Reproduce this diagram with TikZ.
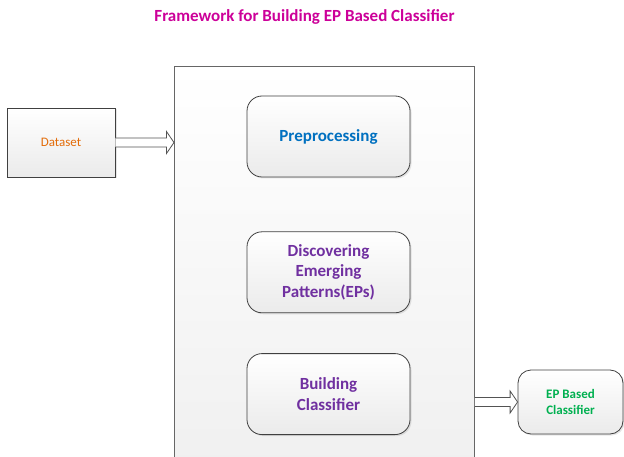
\documentclass[tikz,border=0pt]{standalone}
\usepackage{fontspec}
\setmainfont{Carlito}
\usetikzlibrary{positioning,shadows,calc}

\definecolor{titlepink}{HTML}{CC0099}
\definecolor{dataorange}{HTML}{E36C09}
\definecolor{prepblue}{HTML}{0070C0}
\definecolor{steppurple}{HTML}{7030A0}
\definecolor{outgreen}{HTML}{00B050}
\definecolor{edgegray}{HTML}{404040}

% hollow block arrow between two named points
\newcommand{\hollowarrow}[2]{%
\filldraw[blockarrow] ($(#1)+(0,-4.5)$) -- ($(#2)+(-7.5,-4.5)$) -- ($(#2)+(-7.5,-11)$)
  -- (#2) -- ($(#2)+(-7.5,11)$) -- ($(#2)+(-7.5,4.5)$) -- ($(#1)+(0,4.5)$);}

\begin{document}
\begin{tikzpicture}[x=1pt,y=-1pt,node distance=40pt]
\tikzstyle{blockarrow}=[draw=edgegray!90,fill=white,line width=0.8pt,line join=miter]
\tikzstyle{frame}=[draw=black!60,top color=white,bottom color=black!6,line width=0.9pt,minimum width=300pt,minimum height=410pt,anchor=north west]
\tikzstyle{box}=[draw=edgegray,line width=0.8pt,top color=white,bottom color=black!8,align=center,
  drop shadow={opacity=0.2,shadow xshift=1.5pt,shadow yshift=-1.5pt}]
\tikzstyle{stage}=[box,rounded corners=15pt,minimum width=163pt,minimum height=81pt,
  font=\fontsize{17}{20.5}\selectfont\bfseries]
\tikzstyle{source}=[box,minimum width=108pt,minimum height=69pt,font=\fontsize{13}{15.6}\selectfont]
\tikzstyle{result}=[box,rounded corners=13pt,minimum width=105pt,minimum height=64pt,
  font=\fontsize{13}{15.6}\selectfont\bfseries]

\useasboundingbox (0,0) rectangle (624,457);
\clip (0,0) rectangle (624,457);

% Title
\node[font=\fontsize{17}{20}\selectfont\bfseries,text=titlepink] (title) at (304.5,17)
  {Framework for Building EP Based Classifier};

% Framework panel and its stages
\node[frame] (frame) at (174,66) {};
\node[stage,text=prepblue] (prep) at (328.5,136.5) {Preprocessing};
\node[stage,text=steppurple,below=54pt of prep] (disc) {Discovering\\Emerging\\Patterns(EPs)};
\node[stage,text=steppurple,below=40pt of disc] (build) {Building\\Classifier};

% Input and output
\node[source,text=dataorange] (data) at (61,142.5) {Dataset};
\node[result,text=outgreen] (epc) at (570.5,402) {EP Based\\Classifier};

% Block arrows
\coordinate (in-end) at (data.east -| frame.west);
\coordinate (out-start) at (epc.west -| frame.east);
\hollowarrow{data.east}{in-end}
\hollowarrow{out-start}{epc.west}
\end{tikzpicture}
\end{document}
